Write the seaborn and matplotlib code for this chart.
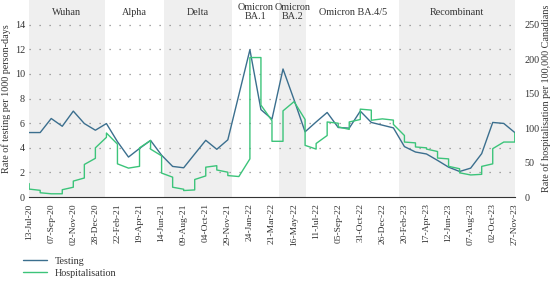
import matplotlib
matplotlib.use("Agg")
import matplotlib.pyplot as plt
import seaborn as sns
import pandas as pd
import numpy as np

# 4-weekly reporting dates
dates = pd.date_range("2020-07-13", "2023-11-27", freq="28D")

# Rate of testing per 1000 person-days
testing = [5.24, 5.24, 6.38, 5.75, 6.98, 5.97, 5.43, 5.97, 4.5, 3.25,
           3.95, 4.6, 3.4, 2.49, 2.38, 3.5, 4.61, 3.88, 4.65, 8.3,
           11.96, 7.1, 6.33, 10.4, 7.9, 5.3, 6.1, 6.87, 5.65, 5.6,
           6.98, 6.06, 5.84, 5.62, 4.1, 3.66, 3.5, 2.98, 2.43, 2.08,
           2.35, 3.53, 6.06, 5.98, 5.24]

# Hospitalisation per 100,000 (read as period index, value); repeated index = jump
hosp_idx = [0, 0, 1, 1, 2, 3, 3, 4, 4, 5, 5, 6, 6, 7, 7, 8, 8, 9, 10, 10,
            11, 11, 12, 12, 13, 13, 14, 14, 15, 15, 16, 16, 17, 17, 18, 18, 19, 20, 20, 21,
            21, 22, 22, 23, 23, 24, 25, 25, 26, 26, 27, 27, 28, 28, 29, 29, 30, 30, 31, 31,
            32, 33, 33, 34, 34, 35, 35, 36, 36, 37, 37, 38, 38, 39, 39, 40, 41, 41, 42, 42,
            43, 44, 44]
hosp = [19.6, 11.6, 9.8, 6.3, 4.8, 4.8, 10.7, 14.3, 23.2, 27.7, 47.3, 56.2, 71.4, 86.6, 92.9, 76.8, 48.2, 42.0, 44.6, 71.4,
        82.1, 69.6, 59.8, 34.8, 28.9, 14.3, 11.4, 9.5, 10.4, 25.5, 30.7, 43.4, 45.5, 39.3, 36.1, 31.2, 29.8, 55.4, 202.3, 202.3,
        133.4, 110.7, 80.9, 80.9, 125.0, 138.4, 112.5, 75.0, 69.6, 77.7, 89.3, 108.9, 107.1, 101.8, 98.2, 108.9, 112.5, 127.5, 126.1, 111.4,
        113.4, 111.6, 105.4, 89.3, 79.8, 78.6, 72.7, 71.4, 69.6, 66.1, 56.6, 55.4, 44.6, 41.1, 35.2, 32.1, 33.0, 44.5, 48.2, 70.2,
        79.8, 79.8, 92.9]

# Variant periods
periods = ["Wuhan", "Alpha", "Delta", "Omicron\nBA.1", "Omicron\nBA.2", "Omicron BA.4/5", "Recombinant"]
period_edges = ["2020-07-13", "2021-01-21", "2021-06-19", "2021-12-10", "2022-04-07",
                "2022-06-16", "2023-02-07", "2023-11-27"]

tick_dates = pd.date_range("2020-07-13", "2023-11-27", freq="56D")

sns.set_style("white")
plt.rcParams["font.family"] = ["Liberation Serif", "DejaVu Serif"]
text_col = "#333333"
blue = "#3b6f8e"
green = "#3cc47a"

df_test = pd.DataFrame({"date": dates, "rate": testing})
df_hosp = pd.DataFrame({"date": dates[hosp_idx], "rate": hosp})

fig = plt.figure(figsize=(5.5, 2.84), dpi=100)
ax = fig.add_axes([0.053, 0.306, 0.883, 0.694])
ax2 = ax.twinx()

edges = pd.to_datetime(period_edges)
for i, name in enumerate(periods):
    if i % 2 == 0:
        ax.axvspan(edges[i], edges[i + 1], color="#efefef", lw=0, zorder=0)
    mid = edges[i] + (edges[i + 1] - edges[i]) / 2
    ax.text(mid, 15.0, name, ha="center", va="center", fontsize=7.3,
            color=text_col, linespacing=1.05)

for y in range(2, 15, 2):
    ax.axhline(y, color="#8a8a8a", lw=0.9, ls=(0, (1, 7)), zorder=1)

sns.lineplot(data=df_test, x="date", y="rate", ax=ax, color=blue, lw=1.0,
             label="Testing", legend=False, zorder=3)
sns.lineplot(data=df_hosp, x="date", y="rate", ax=ax2, color=green, lw=1.0,
             estimator=None, sort=False, label="Hospitalisation", legend=False)

ax.set_xlim(tick_dates[0], tick_dates[-1])
ax.set_ylim(0, 16)
ax2.set_ylim(0, 250 * 16 / 14)
ax.set_yticks(range(0, 15, 2))
ax2.set_yticks(range(0, 251, 50))
ax.set_xticks(tick_dates)
ax.set_xticklabels([d.strftime("%d-%b-%y") for d in tick_dates], rotation=90)

for a in (ax, ax2):
    for s in a.spines.values():
        s.set_visible(False)
    a.patch.set_visible(False)
ax.spines["bottom"].set_visible(True)
ax.spines["bottom"].set_color("#333333")
ax.spines["bottom"].set_linewidth(0.8)
ax.set_zorder(ax2.get_zorder() - 1)
ax.patch.set_visible(False)

ax.tick_params(axis="x", direction="inout", length=5, width=0.8, color="#333333",
               labelsize=6.8, labelcolor=text_col, pad=2)
ax.tick_params(axis="y", length=0, labelsize=7.3, labelcolor=text_col, pad=3)
ax2.tick_params(axis="y", length=0, labelsize=7.3, labelcolor=text_col, pad=7)

ax.set_xlabel("")
ax.set_ylabel("Rate of testing per 1000 person-days", fontsize=7.3, color=text_col, labelpad=3)
ax2.set_ylabel("Rate of hospitalisation per 100,000 Canadians", fontsize=7.3, color=text_col,
               labelpad=1)

h1, l1 = ax.get_legend_handles_labels()
h2, l2 = ax2.get_legend_handles_labels()
fig.legend(h1 + h2, l1 + l2, loc="upper left", bbox_to_anchor=(0.035, 0.11),
           frameon=False, fontsize=7.3, handlelength=2.3, labelspacing=0.25,
           labelcolor=text_col, borderaxespad=0)

fig.savefig("out.png", dpi=100)
